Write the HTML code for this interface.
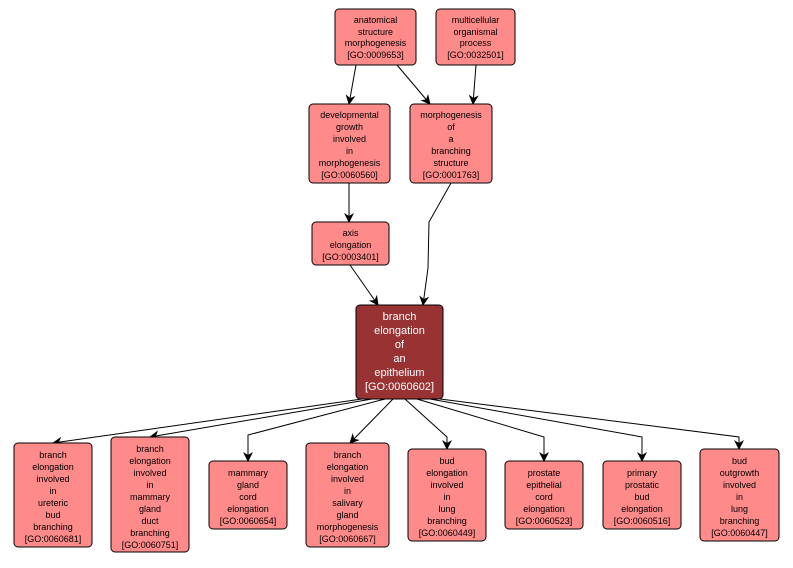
<!DOCTYPE html>
<html><head><meta charset="utf-8"><style>
body{margin:0;background:#fff;}
svg text{font-family:"Liberation Sans","DejaVu Sans",sans-serif;font-size:9px;text-anchor:middle;fill:#000;}
.n{fill:#ff8a8a;stroke:#000;stroke-width:1;}
.e{stroke:#000;fill:none;stroke-width:1;}
.a{fill:#000;}
</style></head><body>
<svg width="793" height="563" xmlns="http://www.w3.org/2000/svg">
<defs><marker id="m" markerWidth="10" markerHeight="10" refX="9" refY="5" orient="auto" markerUnits="userSpaceOnUse"><path d="M0,0 L10,5 L0,10 L3,5 z" class="a"/></marker></defs>
<g class="e" marker-end="url(#m)">
<path d="M356,65 L349,104"/>
<path d="M397,65 L430,104"/>
<path d="M476,65 L473,104"/>
<path d="M349,183 L349,222"/>
<path d="M451,183 L429,222 L428,268 L423,305"/>
<path d="M350,265 L378,305"/>
<path d="M362,399 L53,443"/>
<path d="M372,399 L150,437"/>
<path d="M385,399 L248,435 L248,461"/>
<path d="M393,399 L350,443"/>
<path d="M405,399 L447,437 L447,449"/>
<path d="M417,399 L544,437 L544,461"/>
<path d="M430,399 L642,437 L642,461"/>
<path d="M440,399 L739,437 L739,449"/>
</g>
<rect class="n" x="335" y="9" width="81" height="56" rx="4"/>
<text x="375.5" y="23">anatomical<tspan x="375.5" dy="12">structure</tspan><tspan x="375.5" dy="11">morphogenesis</tspan><tspan x="375.5" dy="12">[GO:0009653]</tspan></text>
<rect class="n" x="436" y="9" width="79" height="56" rx="4"/>
<text x="475.5" y="23">multicellular<tspan x="475.5" dy="12">organismal</tspan><tspan x="475.5" dy="11">process</tspan><tspan x="475.5" dy="12">[GO:0032501]</tspan></text>
<rect class="n" x="309" y="104" width="81" height="79" rx="4"/>
<text x="349.5" y="118">developmental<tspan x="349.5" dy="12">growth</tspan><tspan x="349.5" dy="12">involved</tspan><tspan x="349.5" dy="12">in</tspan><tspan x="349.5" dy="12">morphogenesis</tspan><tspan x="349.5" dy="12">[GO:0060560]</tspan></text>
<rect class="n" x="410" y="104" width="82" height="79" rx="4"/>
<text x="451" y="118">morphogenesis<tspan x="451" dy="12">of</tspan><tspan x="451" dy="12">a</tspan><tspan x="451" dy="12">branching</tspan><tspan x="451" dy="12">structure</tspan><tspan x="451" dy="12">[GO:0001763]</tspan></text>
<rect class="n" x="312" y="222" width="77" height="43" rx="4"/>
<text x="350.5" y="236">axis<tspan x="350.5" dy="12">elongation</tspan><tspan x="350.5" dy="12">[GO:0003401]</tspan></text>
<rect x="356" y="305" width="87" height="94" rx="4" fill="#993333" stroke="#000"/>
<text x="399.5" y="320" style="fill:#fff;font-size:11px">branch<tspan x="399.5" dy="14">elongation</tspan><tspan x="399.5" dy="14">of</tspan><tspan x="399.5" dy="14">an</tspan><tspan x="399.5" dy="14">epithelium</tspan><tspan x="399.5" dy="14">[GO:0060602]</tspan></text>
<rect class="n" x="14" y="443" width="78" height="104" rx="4"/>
<text x="53" y="458">branch<tspan x="53" dy="12">elongation</tspan><tspan x="53" dy="12">involved</tspan><tspan x="53" dy="12">in</tspan><tspan x="53" dy="12">ureteric</tspan><tspan x="53" dy="12">bud</tspan><tspan x="53" dy="12">branching</tspan><tspan x="53" dy="12">[GO:0060681]</tspan></text>
<rect class="n" x="111" y="437" width="78" height="115" rx="4"/>
<text x="150" y="452">branch<tspan x="150" dy="12">elongation</tspan><tspan x="150" dy="12">involved</tspan><tspan x="150" dy="12">in</tspan><tspan x="150" dy="12">mammary</tspan><tspan x="150" dy="12">gland</tspan><tspan x="150" dy="12">duct</tspan><tspan x="150" dy="12">branching</tspan><tspan x="150" dy="12">[GO:0060751]</tspan></text>
<rect class="n" x="209" y="461" width="78" height="68" rx="4"/>
<text x="248" y="476">mammary<tspan x="248" dy="12">gland</tspan><tspan x="248" dy="12">cord</tspan><tspan x="248" dy="12">elongation</tspan><tspan x="248" dy="12">[GO:0060654]</tspan></text>
<rect class="n" x="306" y="443" width="83" height="104" rx="4"/>
<text x="347.5" y="458">branch<tspan x="347.5" dy="12">elongation</tspan><tspan x="347.5" dy="12">involved</tspan><tspan x="347.5" dy="12">in</tspan><tspan x="347.5" dy="12">salivary</tspan><tspan x="347.5" dy="12">gland</tspan><tspan x="347.5" dy="12">morphogenesis</tspan><tspan x="347.5" dy="12">[GO:0060667]</tspan></text>
<rect class="n" x="408" y="449" width="78" height="92" rx="4"/>
<text x="447" y="464">bud<tspan x="447" dy="12">elongation</tspan><tspan x="447" dy="12">involved</tspan><tspan x="447" dy="12">in</tspan><tspan x="447" dy="12">lung</tspan><tspan x="447" dy="12">branching</tspan><tspan x="447" dy="12">[GO:0060449]</tspan></text>
<rect class="n" x="505" y="461" width="78" height="68" rx="4"/>
<text x="544" y="476">prostate<tspan x="544" dy="12">epithelial</tspan><tspan x="544" dy="12">cord</tspan><tspan x="544" dy="12">elongation</tspan><tspan x="544" dy="12">[GO:0060523]</tspan></text>
<rect class="n" x="603" y="461" width="78" height="68" rx="4"/>
<text x="642" y="476">primary<tspan x="642" dy="12">prostatic</tspan><tspan x="642" dy="12">bud</tspan><tspan x="642" dy="12">elongation</tspan><tspan x="642" dy="12">[GO:0060516]</tspan></text>
<rect class="n" x="700" y="449" width="79" height="92" rx="4"/>
<text x="739.5" y="464">bud<tspan x="739.5" dy="12">outgrowth</tspan><tspan x="739.5" dy="12">involved</tspan><tspan x="739.5" dy="12">in</tspan><tspan x="739.5" dy="12">lung</tspan><tspan x="739.5" dy="12">branching</tspan><tspan x="739.5" dy="12">[GO:0060447]</tspan></text>
</svg>
</body></html>
